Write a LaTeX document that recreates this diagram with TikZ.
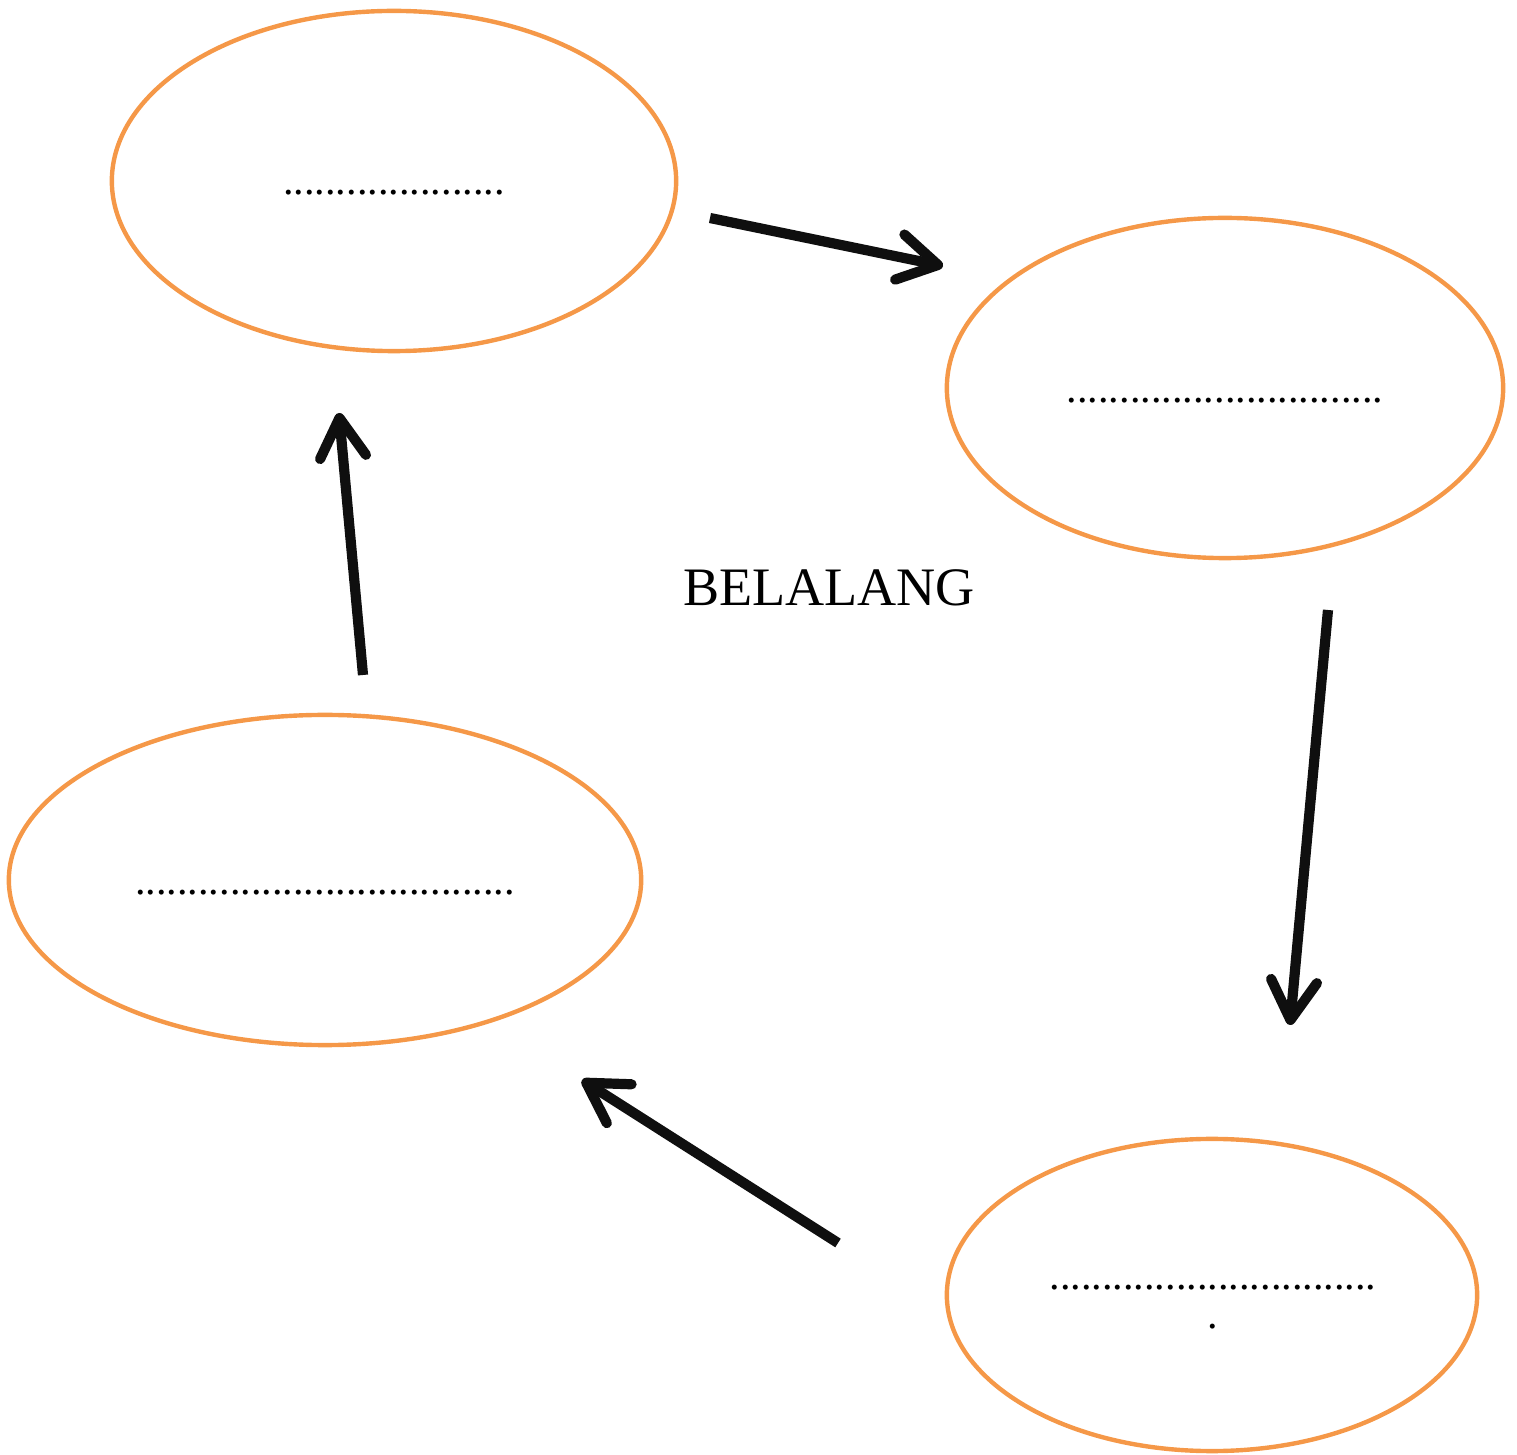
\documentclass[tikz,border=0pt]{standalone}
\usepackage{fontspec}
\setmainfont{Liberation Serif}
\usetikzlibrary{arrows.meta,shapes.geometric}
\definecolor{orangeline}{RGB}{245,152,72}
\definecolor{arrowblack}{RGB}{15,15,15}
\tikzset{
  stage/.style={draw=orangeline, line width=1.25pt, ellipse, inner sep=0pt},
  blank/.style={font=\fontsize{12}{14}\selectfont, inner sep=0pt, anchor=base},
  flow/.style={draw=arrowblack, line width=2.9pt,
    -{Straight Barb[round, length=0.39cm, width=0.46cm]}}
}
\begin{document}
\begin{tikzpicture}[x=0.01cm,y=-0.01cm]
\useasboundingbox (0,0) rectangle (1517,1455);
% ellipses
\node[stage, minimum width=5.64cm, minimum height=3.40cm] (e1) at (394,181) {};
\node[stage, minimum width=5.56cm, minimum height=3.40cm] (e2) at (1225,388) {};
\node[stage, minimum width=6.32cm, minimum height=3.30cm] (e3) at (325,880) {};
\node[stage, minimum width=5.30cm, minimum height=3.12cm] (e4) at (1212,1295) {};
% texts
\node[blank] (t1) at (394,195) {.....................};
\node[blank] (t2) at (1225,403) {..............................};
\node[blank] (t3) at (325,895) {....................................};
\node[blank] (t4a) at (1213,1290) {...............................};
\node[blank] (t4b) at (1213,1328) {.};
\node[font=\fontsize{15.4}{18}\selectfont, inner sep=0pt, anchor=base] (title) at (829,606) {BELALANG};
% arrow end points
\coordinate (a1s) at (710,218); \coordinate (a1e) at (943,266);
\coordinate (a2s) at (1328,610); \coordinate (a2e) at (1290,1025);
\coordinate (a3s) at (838,1243); \coordinate (a3e) at (582,1080);
\coordinate (a4s) at (363,675); \coordinate (a4e) at (339,413);
\draw[flow] (a1s) -- (a1e);
\draw[flow] (a2s) -- (a2e);
\draw[flow] (a3s) -- (a3e);
\draw[flow] (a4s) -- (a4e);
\end{tikzpicture}
\end{document}
